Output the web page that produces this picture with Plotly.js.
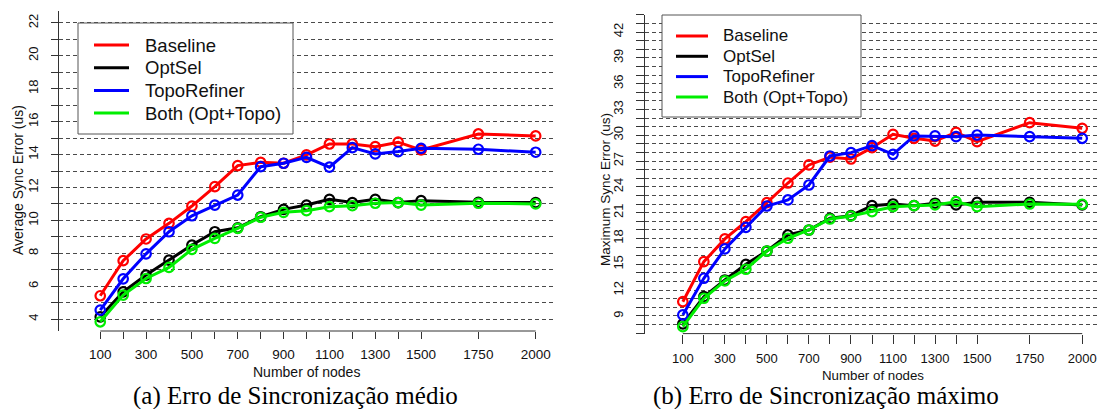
<!DOCTYPE html>
<html>
<head>
<meta charset="utf-8">
<script src="https://cdn.plot.ly/plotly-3.0.1.min.js"></script>
<style>html,body{margin:0;padding:0;background:#fff;}#chart{width:1099px;height:409px;}</style>
</head>
<body>
<div id="chart"></div>
<script>
// ---------- data ----------
const nodes = [100,200,300,400,500,600,700,800,900,1000,1100,1200,1300,1400,1500,1750,2000];
const xTickText = ['100','','300','','500','','700','','900','','1100','','1300','','1500','1750','2000'];

const seriesNames = ['Baseline','OptSel','TopoRefiner','Both (Opt+Topo)'];
const seriesColors = ['#ff0000','#000000','#0000ff','#00ee00'];

// (a) average sync error (us)
const avgBaseline = [5.42,7.55,8.87,9.82,10.87,12.05,13.33,13.53,13.47,13.98,14.64,14.64,14.48,14.75,14.28,15.25,15.13];
const avgOptSel   = [4.14,5.66,6.68,7.59,8.50,9.31,9.55,10.22,10.67,10.93,11.28,11.08,11.28,11.08,11.20,11.10,11.08];
const avgTopo     = [4.55,6.45,7.97,9.31,10.28,10.93,11.54,13.26,13.47,13.83,13.23,14.42,14.04,14.18,14.38,14.32,14.14];
const avgBoth     = [3.84,5.46,6.47,7.14,8.24,8.91,9.52,10.19,10.49,10.59,10.83,10.89,11.04,11.08,10.93,11.04,11.00];

// (b) maximum sync error (us)
const maxBaseline = [10.66,15.31,17.95,19.96,22.17,24.45,26.55,27.45,27.24,28.56,30.11,29.65,29.33,30.34,29.25,31.46,30.81];
const maxOptSel   = [8.07,11.24,13.18,15.00,16.55,18.41,18.99,20.35,20.65,21.82,22.01,21.82,22.10,21.90,22.21,22.21,21.90];
const maxTopo     = [9.12,13.38,16.79,19.30,21.78,22.48,24.22,27.59,27.98,28.79,27.79,29.92,29.92,29.84,30.03,29.84,29.65];
const maxBoth     = [7.76,11.06,13.07,14.43,16.55,18.03,18.99,20.27,20.62,21.12,21.70,21.82,21.90,22.28,21.70,22.01,21.98];

const avgYTickVals = [4,5,6,7,8,9,10,11,12,13,14,15,16,17,18,19,20,21,22];
const avgYTickText = ['4','','6','','8','','10','','12','','14','','16','','18','','20','','22'];
const maxYTickVals = [7,8,9,10,11,12,13,14,15,16,17,18,19,20,21,22,23,24,25,26,27,28,29,30,31,32,33,34,35,36,37,38,39,40,41,42,43,44];
const maxYTickText = ['','','9','','','12','','','15','','','18','','','21','','','24','','','27','','','30','','','33','','','36','','','39','','','42','',''];

const titles = {
  x: 'Number of nodes',
  yAvg: 'Average Sync Error (us)',
  yMax: 'Maximum Sync Error (us)',
  capA: '(a) Erro de Sincronização médio',
  capB: '(b) Erro de Sincronização máximo'
};

// ---------- build ----------
const W = 1099, H = 409;
const px = v => v / W;
const py = v => 1 - v / H;
const SANS = 'Liberation Sans, Arial, sans-serif';
const SERIF = 'Liberation Serif, Times New Roman, serif';

const avgSeries = [avgBaseline, avgOptSel, avgTopo, avgBoth];
const maxSeries = [maxBaseline, maxOptSel, maxTopo, maxBoth];

const traces = [];
function addTraces(seriesList, xa, ya) {
  seriesList.forEach((ys, i) => {
    traces.push({
      x: nodes, y: ys, xaxis: xa, yaxis: ya,
      type: 'scatter', mode: 'lines+markers', name: seriesNames[i],
      showlegend: false,
      line: {color: seriesColors[i], width: 3},
      marker: {symbol: 'circle-open', size: 9.5, color: seriesColors[i], line: {width: 2.2, color: seriesColors[i]}}
    });
  });
}
addTraces(avgSeries, 'x', 'y');
addTraces(maxSeries, 'x2', 'y2');

const axisCommon = {showgrid: false, zeroline: false, ticks: 'outside', tickcolor: '#333', tickwidth: 1, fixedrange: true};

const shapes = [];
const annotations = [];

// x axis lines spanning first..last tick (R style)
[['x','y domain'],['x2','y2 domain']].forEach(([xr, yr]) => {
  shapes.push({type: 'line', xref: xr, yref: yr, x0: nodes[0], x1: nodes[nodes.length-1], y0: 0, y1: 0,
    line: {color: '#333', width: 1}, layer: 'above'});
});

// legends
function legend(box, lineX0, lineX1, textX, rowY, fontSize) {
  shapes.push({type: 'rect', xref: 'paper', yref: 'paper', x0: px(box[0]), x1: px(box[1]), y0: py(box[3]), y1: py(box[2]),
    fillcolor: '#ffffff', line: {color: '#555', width: 1}, layer: 'above'});
  seriesNames.forEach((n, i) => {
    shapes.push({type: 'line', xref: 'paper', yref: 'paper', x0: px(lineX0), x1: px(lineX1), y0: py(rowY[i]), y1: py(rowY[i]),
      line: {color: seriesColors[i], width: 3}, layer: 'above'});
    annotations.push({xref: 'paper', yref: 'paper', x: px(textX), y: py(rowY[i]), xanchor: 'left', yanchor: 'middle',
      text: n, showarrow: false, font: {family: SANS, size: fontSize, color: '#111'}});
  });
}
legend([78, 293, 23, 134], 94, 129, 143, [45, 67.7, 90.4, 113.1], 18.5);
legend([662, 861, 15, 117], 676, 708, 721, [36, 56.3, 76.6, 97], 17);

// axis titles
annotations.push({xref: 'paper', yref: 'paper', x: px(306.7), y: py(372), xanchor: 'center', yanchor: 'middle',
  text: titles.x, showarrow: false, font: {family: SANS, size: 14, color: '#111'}});
annotations.push({xref: 'paper', yref: 'paper', x: px(872.5), y: py(375), xanchor: 'center', yanchor: 'middle',
  text: titles.x, showarrow: false, font: {family: SANS, size: 13.3, color: '#111'}});
annotations.push({xref: 'paper', yref: 'paper', x: px(18), y: py(180), xanchor: 'center', yanchor: 'middle', textangle: -90,
  text: titles.yAvg, showarrow: false, font: {family: SANS, size: 14, color: '#111'}});
annotations.push({xref: 'paper', yref: 'paper', x: px(605), y: py(190), xanchor: 'center', yanchor: 'middle', textangle: -90,
  text: titles.yMax, showarrow: false, font: {family: SANS, size: 13.5, color: '#111'}});
// captions
annotations.push({xref: 'paper', yref: 'paper', x: px(295.5), y: py(396), xanchor: 'center', yanchor: 'middle',
  text: titles.capA, showarrow: false, font: {family: SERIF, size: 25, color: '#000'}});
annotations.push({xref: 'paper', yref: 'paper', x: px(826), y: py(396), xanchor: 'center', yanchor: 'middle',
  text: titles.capB, showarrow: false, font: {family: SERIF, size: 25, color: '#000'}});

const layout = {
  width: W, height: H,
  margin: {l: 0, r: 0, t: 0, b: 0, pad: 0},
  paper_bgcolor: '#fff', plot_bgcolor: '#fff',
  showlegend: false,
  font: {family: SANS, color: '#111'},
  xaxis: Object.assign({}, axisCommon, {
    domain: [px(59), px(554)], range: [-80, 2080], anchor: 'y',
    tickmode: 'array', tickvals: nodes, ticktext: xTickText, ticklen: 7, ticklabelstandoff: 4,
    showline: false, tickfont: {family: SANS, size: 13.5, color: '#111'}
  }),
  yaxis: Object.assign({}, axisCommon, {
    domain: [py(331), py(11)], range: [3.28, 22.72], anchor: 'x',
    tickmode: 'array', tickvals: avgYTickVals, ticktext: avgYTickText, ticklen: 7, tickangle: -90, ticklabelstandoff: 8,
    showline: true, linecolor: '#333', linewidth: 1,
    showgrid: true, gridcolor: '#4a4a4a', gridwidth: 1, griddash: '4px,3px',
    tickfont: {family: SANS, size: 13, color: '#111'}
  }),
  xaxis2: Object.assign({}, axisCommon, {
    domain: [px(645), 1], range: [-80, 2080], anchor: 'y2',
    tickmode: 'array', tickvals: nodes, ticktext: xTickText, ticklen: 9, ticklabelstandoff: 4,
    showline: false, tickfont: {family: SANS, size: 13, color: '#111'}
  }),
  yaxis2: Object.assign({}, axisCommon, {
    domain: [py(333.6), py(14.8)], range: [6.95, 44], anchor: 'x2',
    tickmode: 'array', tickvals: maxYTickVals, ticktext: maxYTickText, ticklen: 8, tickangle: -90, ticklabelstandoff: 8,
    showline: true, linecolor: '#333', linewidth: 1,
    showgrid: true, gridcolor: '#4a4a4a', gridwidth: 1, griddash: '4px,3px',
    tickfont: {family: SANS, size: 13, color: '#111'}
  }),
  shapes: shapes,
  annotations: annotations
};

Plotly.newPlot('chart', traces, layout, {displayModeBar: false, staticPlot: true});
</script>
</body>
</html>
